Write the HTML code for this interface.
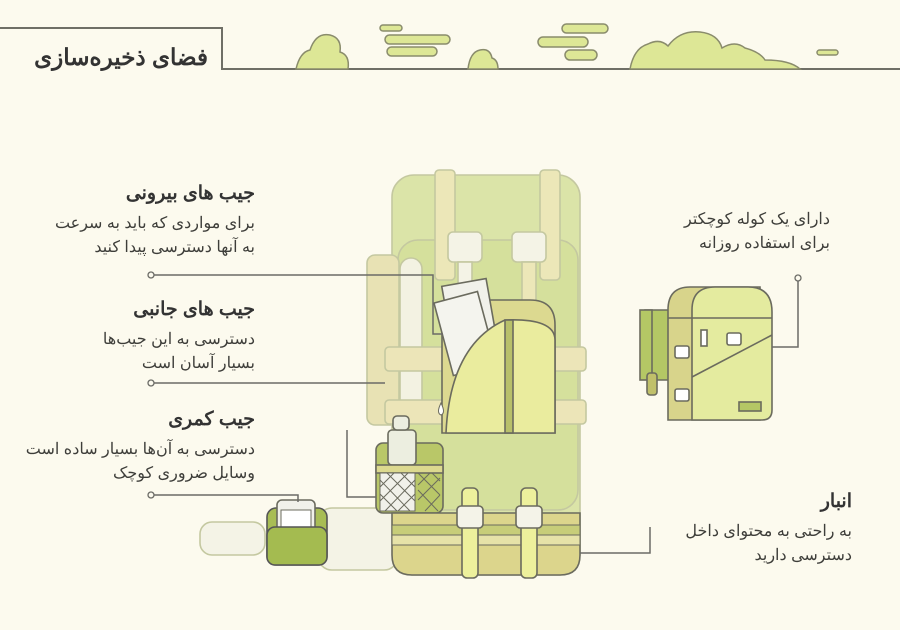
<!DOCTYPE html>
<html><head><meta charset="utf-8"><style>
html,body{margin:0;padding:0;background:#fcfaee;}
body{width:900px;height:630px;overflow:hidden;position:relative;font-family:"Liberation Sans","Noto Sans CJK SC",sans-serif;}
.t{position:absolute;direction:rtl;text-align:right;color:#3e3e3a;font-size:16px;line-height:24px;}
.h{font-weight:bold;font-size:19px;color:#333;line-height:30px;display:block;margin-bottom:3px;}
</style></head><body>
<svg width="900" height="630" style="position:absolute;left:0;top:0" stroke="#6b6b5e" stroke-width="1.6">
<g fill="none" stroke="#6f6f66" stroke-width="2">
<polyline points="0,28 222,28 222,69 900,69"/>
</g>
<g fill="#dde796" stroke="#8a8c6c" stroke-width="1.5">
<path d="M296,69 Q300,52 310,50 Q316,32 330,35 Q342,38 340,52 Q350,55 348,69Z"/>
<path d="M468,69 Q470,52 480,50 Q490,48 492,58 Q498,60 498,69Z"/>
<path d="M630,69 Q634,48 648,44 Q660,38 668,46 Q680,30 700,32 Q718,34 722,48 Q735,40 745,48 Q760,52 765,60 Q790,60 800,69Z"/>
<rect x="380" y="25" width="22" height="6" rx="3"/>
<rect x="385" y="35" width="65" height="9" rx="4.5"/>
<rect x="387" y="47" width="50" height="9" rx="4.5"/>
<rect x="562" y="24" width="46" height="9" rx="4.5"/>
<rect x="538" y="37" width="50" height="10" rx="5"/>
<rect x="565" y="50" width="32" height="10" rx="5"/>
<rect x="817" y="50" width="21" height="5" rx="2.5"/>
</g>
<g stroke="#c4c8a0" stroke-width="1.6">
<rect x="392" y="175" width="188" height="400" rx="22" fill="#dbe4a8"/>
<rect x="398" y="240" width="180" height="270" rx="20" fill="#d5e09c"/>
<rect x="367" y="255" width="32" height="170" rx="8" fill="#e8e2b4"/>
<rect x="400" y="258" width="22" height="165" rx="11" fill="#f3f2e2"/>
<rect x="435" y="170" width="20" height="110" rx="4" fill="#ece7b8"/>
<rect x="540" y="170" width="20" height="110" rx="4" fill="#ece7b8"/>
<rect x="448" y="232" width="34" height="30" rx="5" fill="#f4f3e6"/>
<rect x="512" y="232" width="34" height="30" rx="5" fill="#f4f3e6"/>
<rect x="458" y="262" width="14" height="60" fill="#f4f3e6"/>
<rect x="522" y="262" width="14" height="60" fill="#ece7b8"/>
<rect x="385" y="347" width="201" height="24" rx="4" fill="#ece5b8"/>
<rect x="385" y="400" width="201" height="24" rx="4" fill="#ece5b8"/>
<rect x="200" y="522" width="65" height="33" rx="12" fill="#f4f3e6"/>
<rect x="318" y="508" width="80" height="62" rx="14" fill="#f4f3e6"/>
</g>
<path d="M442,433 V330 Q442,300 470,300 H530 Q555,300 555,325 V433Z" fill="#dcd990" stroke="#6b6b5e"/>
<g transform="rotate(-10 470 320)"><rect x="448" y="282" width="45" height="75" fill="#f1f1ea" stroke="#6b6b5e"/></g>
<g transform="rotate(-15 465 330)"><rect x="442" y="296" width="45" height="75" fill="#f4f4ee" stroke="#6b6b5e"/></g>
<path d="M446,433 Q450,345 505,320 Q555,318 555,340 V433Z" fill="#eaec9e" stroke="#6b6b5e"/>
<rect x="505" y="320" width="8" height="113" fill="#b8c06a" stroke="#6b6b5e"/>
<path d="M441,403 Q436,413 441,415 Q446,413 441,403Z" fill="#fff" stroke="#6b6b5e" stroke-width="1"/>
<rect x="376" y="443" width="67" height="70" rx="7" fill="#b9c768" stroke="#6b6b5e"/>
<rect x="388" y="430" width="28" height="35" rx="4" fill="#eceee0" stroke="#6b6b5e"/>
<rect x="393" y="416" width="16" height="14" rx="4" fill="#eceee0" stroke="#6b6b5e"/>
<rect x="376" y="465" width="67" height="8" fill="#dcd98f" stroke="#6b6b5e"/>
<rect x="380" y="473" width="35" height="38" fill="#f1f1ea" stroke="#6b6b5e" stroke-width="1"/>
<path d="M380,480 L410,511 M380,494 L397,511 M387,473 L415,501 M401,473 L415,487 M415,480 L385,511 M415,494 L398,511 M408,473 L380,501 M394,473 L380,487 M418,473 L440,495 M432,473 L440,481 M440,478 L418,500 M430,473 L418,485 M418,490 L438,511 M440,495 L425,511" stroke="#6b6b5e" stroke-width="1"/>
<path d="M392,513 H580 V555 Q580,575 560,575 H412 Q392,575 392,555Z" fill="#dcd58c" stroke="#6b6b5e"/>
<rect x="392" y="525" width="188" height="10" fill="#c7cd79" stroke="#6b6b5e" stroke-width="1"/>
<rect x="392" y="535" width="188" height="10" fill="#e6e2a8" stroke="#6b6b5e" stroke-width="1"/>
<rect x="462" y="488" width="16" height="90" rx="5" fill="#edf09c" stroke="#6b6b5e"/>
<rect x="521" y="488" width="16" height="90" rx="5" fill="#edf09c" stroke="#6b6b5e"/>
<rect x="457" y="506" width="26" height="22" rx="4" fill="#f4f3e8" stroke="#6b6b5e"/>
<rect x="516" y="506" width="26" height="22" rx="4" fill="#f4f3e8" stroke="#6b6b5e"/>
<rect x="267" y="508" width="60" height="57" rx="9" fill="#a8bd55" stroke="#555"/>
<rect x="277" y="500" width="38" height="32" rx="5" fill="#f1f1ea" stroke="#6b6b5e"/>
<rect x="281" y="510" width="30" height="18" fill="#fff" stroke="#6b6b5e" stroke-width="1"/>
<rect x="267" y="527" width="60" height="38" rx="8" fill="#a4bb50" stroke="#555"/>
<path d="M645,310 H670 V380 H650 V318 H645Z" fill="#b4c765" stroke="#6b6b5e"/>
<rect x="640" y="310" width="12" height="70" fill="#b4c765" stroke="#6b6b5e"/>
<rect x="647" y="373" width="10" height="22" rx="3" fill="#c0c06a" stroke="#6b6b5e"/>
<path d="M668,420 V310 Q668,287 690,287 H760 V420Z" fill="#d8d48b" stroke="#6b6b5e"/>
<path d="M692,420 V310 Q692,287 715,287 H748 Q772,287 772,312 V410 Q772,420 762,420Z" fill="#e4eb9f" stroke="#6b6b5e"/>
<path d="M692,377 L772,335" stroke="#6b6b5e" fill="none"/>
<line x1="668" y1="318" x2="772" y2="318"/>
<rect x="701" y="330" width="6" height="16" fill="#fff"/>
<rect x="727" y="333" width="14" height="12" rx="2" fill="#fff"/>
<rect x="675" y="346" width="14" height="12" rx="2" fill="#fff"/>
<rect x="675" y="389" width="14" height="12" rx="2" fill="#fff"/>
<rect x="739" y="402" width="22" height="9" fill="#b4c765"/>
<g fill="none" stroke="#6b6b66" stroke-width="1.5">
<polyline points="152,275 433,275 433,334 443,334"/>
<line x1="152" y1="383" x2="385" y2="383"/>
<polyline points="152,495 298,495 298,502"/>
<polyline points="347,430 347,497 376,497"/>
<polyline points="798,280 798,347 772,347"/>
<polyline points="580,553 650,553 650,527"/>
</g>
<g fill="#fcfaee" stroke="#6b6b66" stroke-width="1.3">
<circle cx="151" cy="275" r="3"/><circle cx="151" cy="383" r="3"/><circle cx="151" cy="495" r="3"/><circle cx="798" cy="278" r="3"/>
</g>
</svg>
<div class="t" style="right:692px;top:42px;font-size:23px;font-weight:bold;color:#333;line-height:30px;">فضای ذخیره‌سازی</div>
<div class="t" style="right:645px;top:179px;"><span class="h">جیب های بیرونی</span>برای مواردی که باید به سرعت<br>به آنها دسترسی پیدا کنید</div>
<div class="t" style="right:645px;top:295px;"><span class="h">جیب های جانبی</span>دسترسی به این جیب‌ها<br>بسیار آسان است</div>
<div class="t" style="right:645px;top:405px;"><span class="h">جیب کمری</span>دسترسی به آن‌ها بسیار ساده است<br>وسایل ضروری کوچک</div>
<div class="t" style="right:70px;top:208px;">دارای یک کوله کوچکتر<br>برای استفاده روزانه</div>
<div class="t" style="right:48px;top:487px;"><span class="h">انبار</span>به راحتی به محتوای داخل<br>دسترسی دارید</div>
</body></html>
